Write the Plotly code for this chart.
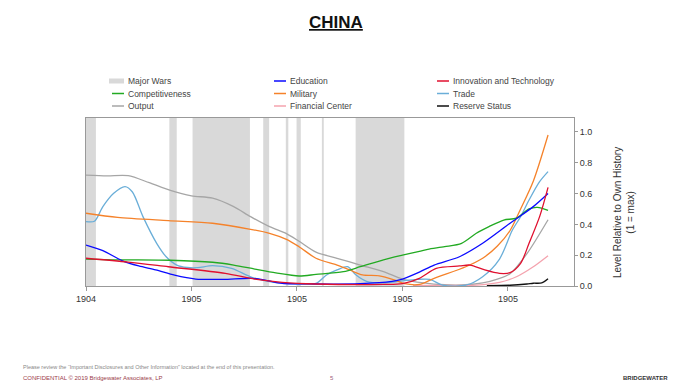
import plotly.graph_objects as go

# ---------------- data ----------------
tick_vals = [1800, 1850, 1900, 1950, 2000]
tick_labels = ["1904", "1905", "1905", "1905", "1905"]

war_starts = [1800, 1839.5, 1850.5, 1884, 1894.7, 1899.8, 1911.8, 1927.8]
war_ends = [1804.7, 1843, 1877.7, 1886.8, 1895.9, 1901.8, 1912.7, 1950.9]

output_years = [1800, 1810, 1820, 1830, 1840, 1850, 1860, 1870, 1878, 1887, 1895, 1901, 1909, 1919, 1930, 1941, 1950, 1960, 1970, 1980, 1988, 1995, 2001, 2009, 2019]
output_vals = [0.72, 0.715, 0.716, 0.67, 0.62, 0.585, 0.57, 0.515, 0.45, 0.385, 0.34, 0.29, 0.22, 0.18, 0.136, 0.093, 0.045, 0.02, 0.008, 0.008, 0.02, 0.045, 0.08, 0.21, 0.43]

trade_years = [1800, 1804, 1808, 1813, 1818.5, 1822, 1827, 1833.5, 1838, 1843, 1848, 1853, 1860, 1869, 1878, 1887, 1901, 1909, 1914, 1919, 1924, 1928, 1933, 1941, 1949, 1957, 1963, 1969, 1980, 1988, 1996, 2002, 2006, 2010, 2015, 2019]
trade_vals = [0.418, 0.42, 0.515, 0.60, 0.645, 0.61, 0.45, 0.277, 0.19, 0.136, 0.12, 0.119, 0.132, 0.115, 0.06, 0.028, 0.013, 0.017, 0.071, 0.104, 0.125, 0.071, 0.03, 0.02, 0.032, 0.043, 0.043, 0.006, 0.005, 0.06, 0.175, 0.36, 0.45, 0.558, 0.677, 0.742]

military_years = [1800, 1815, 1839, 1860, 1878, 1887, 1895, 1901, 1909, 1919, 1925, 1931, 1939, 1946, 1951, 1958, 1965, 1980, 1988, 1995, 2001, 2006, 2012, 2019]
military_vals = [0.472, 0.445, 0.424, 0.407, 0.368, 0.342, 0.303, 0.255, 0.18, 0.136, 0.104, 0.072, 0.066, 0.04, 0.015, 0.01, 0.05, 0.125, 0.18, 0.26, 0.36, 0.5, 0.68, 0.98]

comp_years = [1800, 1815, 1840, 1860, 1870, 1880, 1890, 1901, 1909, 1922, 1930, 1941, 1950, 1958, 1962, 1970, 1978, 1985, 1991, 1998, 2004, 2010, 2014, 2019]
comp_vals = [0.175, 0.17, 0.167, 0.154, 0.136, 0.11, 0.085, 0.065, 0.075, 0.093, 0.125, 0.17, 0.2, 0.225, 0.238, 0.255, 0.277, 0.342, 0.385, 0.428, 0.44, 0.50, 0.51, 0.49]

edu_years = [1800, 1808, 1817, 1825, 1833, 1842, 1852, 1865, 1879, 1886, 1893, 1909, 1930, 1945, 1950, 1958, 1965, 1977, 1988, 2001, 2012, 2019]
edu_vals = [0.266, 0.23, 0.165, 0.13, 0.105, 0.07, 0.045, 0.043, 0.05, 0.035, 0.018, 0.013, 0.015, 0.03, 0.045, 0.09, 0.136, 0.19, 0.277, 0.407, 0.515, 0.60]

innov_years = [1800, 1820, 1839, 1866, 1880, 1893, 1909, 1941, 1950, 1958, 1966, 1977, 1982, 1989, 1996, 2001, 2006, 2010, 2015, 2019]
innov_vals = [0.18, 0.155, 0.125, 0.082, 0.045, 0.024, 0.013, 0.01, 0.015, 0.05, 0.115, 0.13, 0.136, 0.104, 0.082, 0.087, 0.147, 0.277, 0.45, 0.64]

fin_years = [1955, 1970, 1985, 1996, 2004, 2012, 2019]
fin_vals = [0.004, 0.004, 0.006, 0.024, 0.06, 0.125, 0.197]

reserve_years = [1990, 2001, 2009, 2012, 2016, 2019]
reserve_vals = [0.003, 0.005, 0.013, 0.018, 0.02, 0.047]

series = [
    ("Output", output_years, output_vals, "#a6a6a6"),
    ("Financial Center", fin_years, fin_vals, "#f4a3ae"),
    ("Trade", trade_years, trade_vals, "#6aaed8"),
    ("Military", military_years, military_vals, "#f5822a"),
    ("Competitiveness", comp_years, comp_vals, "#22aa22"),
    ("Education", edu_years, edu_vals, "#0a0aff"),
    ("Innovation and Technology", innov_years, innov_vals, "#e0102f"),
    ("Reserve Status", reserve_years, reserve_vals, "#111111"),
]

legend_rows = [
    [("Major Wars", "#d9d9d9", "box"), ("Education", "#0a0aff", "line"), ("Innovation and Technology", "#e0102f", "line")],
    [("Competitiveness", "#22aa22", "line"), ("Military", "#f5822a", "line"), ("Trade", "#6aaed8", "line")],
    [("Output", "#a6a6a6", "line"), ("Financial Center", "#f4a3ae", "line"), ("Reserve Status", "#111111", "line")],
]

# ---------------- layout geometry ----------------
OFF = 8  # page body margin
W, H = 681 - OFF, 391 - OFF
L, R, T, B = 86 - OFF, 574 - OFF, 118 - OFF, 286 - OFF


def px(x):
    # x given in window pixels
    return (x - OFF - L) / (R - L)


def py(y):
    return (B - (y - OFF)) / (B - T)


fig = go.Figure()

for name, xs, ys, col in series:
    fig.add_trace(go.Scatter(x=xs, y=ys, mode="lines", name=name,
                             line=dict(color=col, width=1.3, shape="spline", smoothing=0.8),
                             showlegend=False, hoverinfo="skip"))

shapes = []
for s, e in zip(war_starts, war_ends):
    shapes.append(dict(type="rect", xref="x", yref="paper", x0=s, x1=e, y0=0, y1=1,
                       fillcolor="#d9d9d9", line=dict(width=0), layer="below"))

annotations = []
col_x = [110, 272, 435]
row_y = [81, 93.5, 106]
for r, row in enumerate(legend_rows):
    for c, (label, col, kind) in enumerate(row):
        x0 = col_x[c]
        yy = row_y[r]
        if kind == "box":
            shapes.append(dict(type="rect", xref="paper", yref="paper",
                               x0=px(x0 - 1), x1=px(x0 + 14), y0=py(yy + 2.5), y1=py(yy - 2.5),
                               fillcolor=col, line=dict(width=0)))
        else:
            shapes.append(dict(type="line", xref="paper", yref="paper",
                               x0=px(x0 + 2), x1=px(x0 + 14), y0=py(yy), y1=py(yy),
                               line=dict(color=col, width=1.5)))
        annotations.append(dict(text=label, xref="paper", yref="paper", x=px(x0 + 16), y=py(yy),
                                xanchor="left", yanchor="middle", showarrow=False,
                                font=dict(size=8.5, color="#444", family="Liberation Sans, Arial")))

# title
annotations.append(dict(text="<u><b>CHINA</b></u>", xref="paper", yref="paper", x=px(336), y=py(22),
                        xanchor="center", yanchor="middle", showarrow=False,
                        font=dict(size=17, color="#111", family="Liberation Sans, Arial")))
# y title
annotations.append(dict(text="Level Relative to Own History<br>(1 = max)", xref="paper", yref="paper",
                        x=px(624), y=py(213), xanchor="center", yanchor="middle", showarrow=False,
                        textangle=-90, font=dict(size=10, color="#333", family="Liberation Sans, Arial")))
# footer
annotations.append(dict(text="Please review the \u201cImportant Disclosures and Other Information\u201d located at the end of this presentation.",
                        xref="paper", yref="paper", x=px(21), y=py(367), xanchor="left", yanchor="middle",
                        showarrow=False, font=dict(size=5.5, color="#888", family="Liberation Sans Narrow, Liberation Sans")))
annotations.append(dict(text="CONFIDENTIAL \u00a9 2019 Bridgewater Associates, LP",
                        xref="paper", yref="paper", x=px(21), y=py(378), xanchor="left", yanchor="middle",
                        showarrow=False, font=dict(size=6, color="#9a3b4a", family="Liberation Sans")))
annotations.append(dict(text="5", xref="paper", yref="paper", x=px(332), y=py(378), xanchor="center", yanchor="middle",
                        showarrow=False, font=dict(size=6, color="#a0607e", family="Liberation Sans")))
annotations.append(dict(text="<b>BRIDGEWATER</b>", xref="paper", yref="paper", x=px(670), y=py(378), xanchor="right",
                        yanchor="middle", showarrow=False, font=dict(size=6, color="#333", family="Liberation Sans")))

fig.update_layout(
    width=W, height=H,
    margin=dict(l=L, r=W - R, t=T, b=H - B, pad=0),
    paper_bgcolor="white", plot_bgcolor="white",
    shapes=shapes, annotations=annotations,
    font=dict(family="Liberation Sans, Arial", color="#333"),
    xaxis=dict(range=[1800, 2031.3], tickvals=tick_vals, ticktext=tick_labels,
               showgrid=False, zeroline=False, showline=True, linecolor="#999", linewidth=1,
               mirror=True, ticks="outside", ticklen=4, tickcolor="#999",
               tickfont=dict(size=9, color="#333")),
    yaxis=dict(range=[0, 1.09], side="right", tickvals=[0, 0.2, 0.4, 0.6, 0.8, 1.0],
               tickformat=".1f", showgrid=False, zeroline=False, showline=True,
               linecolor="#999", linewidth=1, mirror=True, ticks="outside", ticklen=3,
               tickcolor="#999", tickfont=dict(size=9, color="#333")),
    showlegend=False,
)

fig.write_html("out.html")
